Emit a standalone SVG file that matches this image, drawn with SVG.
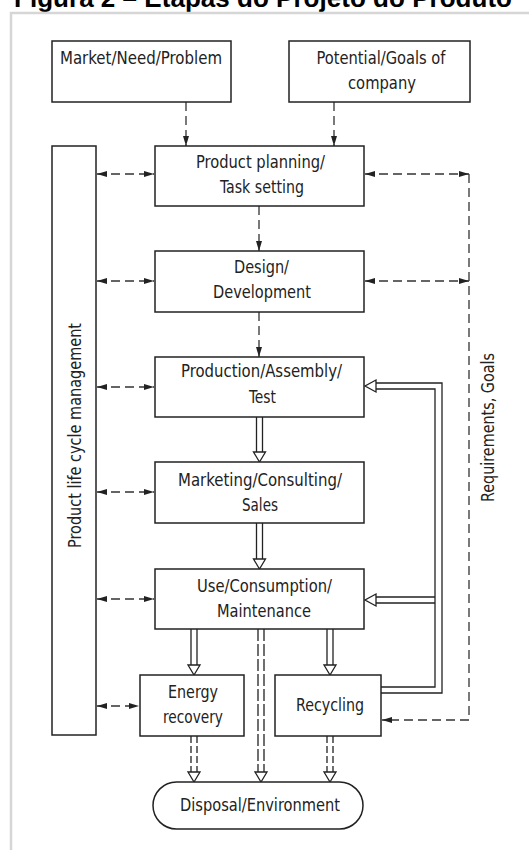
<svg xmlns="http://www.w3.org/2000/svg" width="529" height="850" viewBox="0 0 529 850">
<style>
.box{fill:#fff;stroke:#222;stroke-width:1.5}
.t{font-family:"DejaVu Sans Condensed","Liberation Sans Narrow","Liberation Sans",sans-serif;font-size:17.5px;fill:#222;text-anchor:middle}
.d{fill:none;stroke:#333;stroke-width:1.3;stroke-dasharray:9 5}
.s{fill:none;stroke:#222;stroke-width:1.3}
.h{fill:#fff;stroke:#222;stroke-width:1.3}
</style>
<defs>
<marker id="af" viewBox="0 0 10 6" refX="10" refY="3" markerWidth="10" markerHeight="6" markerUnits="userSpaceOnUse" orient="auto-start-reverse">
<path d="M0,0 L10,3 L0,6 Z" fill="#222"/>
</marker>
</defs>
<rect width="529" height="850" fill="#fff"/>
<text x="14" y="7" font-family="'Liberation Sans',Arial,sans-serif" font-weight="bold" font-size="26" textLength="498" fill="#000">Figura 2 – Etapas do Projeto do Produto</text>
<path d="M11,850 V13 H529" fill="none" stroke="#d6d6d6" stroke-width="2.5"/>

<g id="connectors">
<path class="d" d="M186,102 V146" marker-end="url(#af)"/>
<path class="d" d="M334,102 V146" marker-end="url(#af)"/>
<path class="d" d="M259,206 V251" marker-end="url(#af)"/>
<path class="d" d="M259,312 V357" marker-end="url(#af)"/>
<path class="d" d="M97,174 H154" marker-start="url(#af)" marker-end="url(#af)"/>
<path class="d" d="M97,281 H154" marker-start="url(#af)" marker-end="url(#af)"/>
<path class="d" d="M97,387 H154" marker-start="url(#af)" marker-end="url(#af)"/>
<path class="d" d="M97,492 H154" marker-start="url(#af)" marker-end="url(#af)"/>
<path class="d" d="M97,599 H154" marker-start="url(#af)" marker-end="url(#af)"/>
<path class="d" d="M97,706 H139" marker-start="url(#af)" marker-end="url(#af)"/>
<path class="d" d="M365,174 H469" marker-start="url(#af)" marker-end="url(#af)"/>
<path class="d" d="M365,281 H469" marker-start="url(#af)" marker-end="url(#af)"/>
<path class="d" d="M469,174 V720 H382" marker-end="url(#af)" stroke-dasharray="12 6"/>
<path class="s" d="M256.5,417 V452 M262.5,417 V452"/>
<path class="h" d="M253.5,452 H265.5 L259.5,462 Z"/>
<path class="s" d="M256.5,523 V559 M262.5,523 V559"/>
<path class="h" d="M253.5,559 H265.5 L259.5,569 Z"/>
<path class="s" d="M191,629 V665 M197,629 V665"/>
<path class="h" d="M188,665 H200 L194,675 Z"/>
<path class="s" d="M327,629 V665 M333,629 V665"/>
<path class="h" d="M324,665 H336 L330,675 Z"/>
<path class="s" d="M258,629 V772 M264,629 V772" stroke-dasharray="12 3"/>
<path class="h" d="M255,772 H267 L261,782 Z"/>
<path class="s" d="M191,736 V772 M197,736 V772" stroke-dasharray="7 3"/>
<path class="h" d="M188,772 H200 L194,782 Z"/>
<path class="s" d="M327,736 V772 M333,736 V772" stroke-dasharray="7 3"/>
<path class="h" d="M324,772 H336 L330,782 Z"/>
<path class="s" d="M381,693 H442 V383 H376 M381,687 H435 V389 H376"/>
<path class="h" d="M376,380 V392 L365,386 Z"/>
<path class="s" d="M376,597 H435 M376,603 H435"/>
<path class="h" d="M376,594 V606 L365,600 Z"/>
</g>

<g id="market"><rect class="box" x="52" y="41" width="179" height="61"/><text class="t" x="141" y="64" textLength="162" lengthAdjust="spacingAndGlyphs">Market/Need/Problem</text></g>
<g id="potential"><rect class="box" x="289" y="41" width="181" height="61"/><text class="t" x="381" y="64" textLength="129" lengthAdjust="spacingAndGlyphs">Potential/Goals of</text><text class="t" x="382" y="89" textLength="68" lengthAdjust="spacingAndGlyphs">company</text></g>
<g id="plm"><rect class="box" x="52" y="146" width="44" height="589"/><text class="t" transform="translate(81,435.5) rotate(-90)" x="0" y="0" textLength="225" lengthAdjust="spacingAndGlyphs">Product life cycle management</text></g>
<g id="planning"><rect class="box" x="155" y="146" width="209" height="60"/><text class="t" x="260.5" y="168" textLength="129" lengthAdjust="spacingAndGlyphs">Product planning/</text><text class="t" x="262" y="193" textLength="84" lengthAdjust="spacingAndGlyphs">Task setting</text></g>
<g id="design"><rect class="box" x="155" y="251" width="209" height="61"/><text class="t" x="261.5" y="273" textLength="55" lengthAdjust="spacingAndGlyphs">Design/</text><text class="t" x="262" y="298" textLength="98" lengthAdjust="spacingAndGlyphs">Development</text></g>
<g id="production"><rect class="box" x="155" y="357" width="209" height="60"/><text class="t" x="261.5" y="377" textLength="161" lengthAdjust="spacingAndGlyphs">Production/Assembly/</text><text class="t" x="262.5" y="403" textLength="27" lengthAdjust="spacingAndGlyphs">Test</text></g>
<g id="marketing"><rect class="box" x="155" y="462" width="209" height="61"/><text class="t" x="260" y="486" textLength="164" lengthAdjust="spacingAndGlyphs">Marketing/Consulting/</text><text class="t" x="260" y="511" textLength="36" lengthAdjust="spacingAndGlyphs">Sales</text></g>
<g id="use"><rect class="box" x="155" y="569" width="209" height="60"/><text class="t" x="264.5" y="592" textLength="135" lengthAdjust="spacingAndGlyphs">Use/Consumption/</text><text class="t" x="264" y="617" textLength="94" lengthAdjust="spacingAndGlyphs">Maintenance</text></g>
<g id="energy"><rect class="box" x="140" y="675" width="104" height="61"/><text class="t" x="193" y="698" textLength="50" lengthAdjust="spacingAndGlyphs">Energy</text><text class="t" x="193" y="723" textLength="60" lengthAdjust="spacingAndGlyphs">recovery</text></g>
<g id="recycling"><rect class="box" x="275" y="675" width="106" height="61"/><text class="t" x="330" y="711" textLength="68" lengthAdjust="spacingAndGlyphs">Recycling</text></g>
<g id="disposal"><rect class="box" x="153" y="782" width="210" height="47" rx="23.5"/><text class="t" x="260" y="811" textLength="160" lengthAdjust="spacingAndGlyphs">Disposal/Environment</text></g>
<g id="requirements"><text class="t" transform="translate(494,427.5) rotate(-90)" x="0" y="0" textLength="149" lengthAdjust="spacingAndGlyphs">Requirements, Goals</text></g>
</svg>
